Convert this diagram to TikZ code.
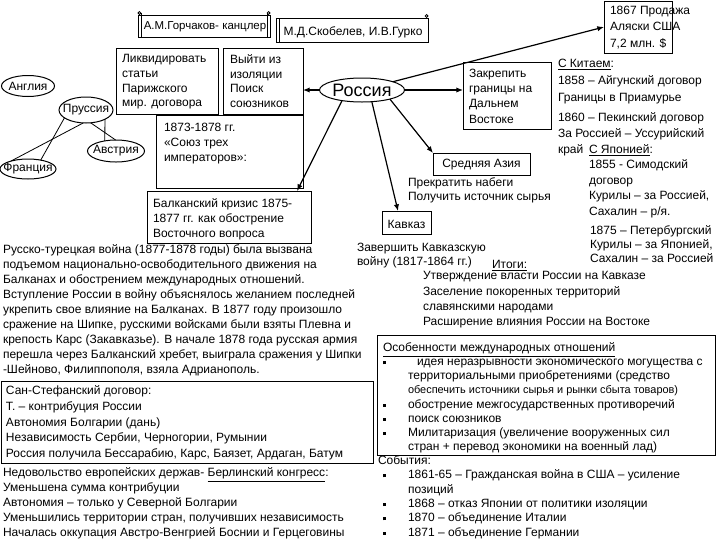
\documentclass[tikz,border=0pt]{standalone}
\usepackage{fontspec}
\setmainfont{Liberation Sans}
\usetikzlibrary{shapes.geometric,arrows.meta,calc}
\begin{document}
\begin{tikzpicture}[x=0.75pt,y=-0.75pt,
  every node/.style={inner sep=0pt,outer sep=0pt},
  txt/.style={font=\fontsize{9}{#1}\selectfont,align=left,anchor=north west,yshift=8.5pt,
    execute at begin node={\rule{0pt}{8.5pt}}},
  txt/.default=11.25,
  ctxt/.style={font=\fontsize{9}{11}\selectfont},
  box/.style={draw,line width=0.75pt,rectangle},
  oval/.style={draw,ellipse,line width=0.75pt},
  arr/.style={line width=0.9pt,-{Latex[length=5pt,width=4pt]}},
  ln/.style={line width=0.6pt}]
\useasboundingbox (0,0) rectangle (720,540);

% scrolls
\node[box,minimum width=99pt,minimum height=16.5pt] (gor) at (204,26) {};
\draw[ln] ([xshift=2.2pt,yshift=1.5pt]gor.north west) -- ([xshift=2.2pt]gor.south west);
\draw[ln] ([xshift=-2.2pt,yshift=1.5pt]gor.north east) -- ([xshift=-2.2pt]gor.south east);
\draw[ln] ([xshift=1.1pt,yshift=1.5pt]gor.north west) circle (1.1pt);
\draw[ln] ([xshift=-1.1pt,yshift=1.5pt]gor.north east) circle (1.1pt);
\node[font=\fontsize{8.6}{11}\selectfont] (gort) at (205,27) {А.М.Горчаков- канцлер};

\node[box,minimum width=114pt,minimum height=18pt] (skob) at (352,30) {};
\draw[ln] ([xshift=2.2pt]skob.north west) -- ([xshift=2.2pt]skob.south west);
\draw[ln] ([xshift=-1.1pt,yshift=1.5pt]skob.north east) circle (1.1pt);
\node[ctxt] (skobt) at (353,32) {М.Д.Скобелев, И.В.Гурко};

% top boxes
\node[box,minimum width=76.5pt,minimum height=49.5pt] (likv) at (167,81) {};
\node[txt=11] (likvt) at (122,66) {Ликвидировать\\статьи\\Парижского\\мир. договора};
\node[box,minimum width=60pt,minimum height=49.5pt] (vyiti) at (263,81) {};
\node[txt=11] (vyitit) at (230,66) {Выйти из\\изоляции\\Поиск\\союзников};
\node[box,minimum width=110.25pt,minimum height=54.75pt] (soyuz) at (229.5,151.5) {};
\node[txt=11.6] (soyuzt) at (164,134) {1873-1878 гг.\\«Союз трех\\императоров»:};
\node[box,minimum width=123pt,minimum height=39pt] (balk) at (229,217) {};
\node[txt] (balkt) at (153,210) {Балканский кризис 1875-\\1877 гг. как обострение\\Восточного вопроса};

% powers
\node[oval,minimum width=39.75pt,minimum height=15.75pt,label={[ctxt]center:Англия}] (en) at (28,86) {};
\node[oval,minimum width=40.5pt,minimum height=19.5pt,label={[ctxt]center:Пруссия}] (pr) at (86,110) {};
\node[oval,minimum width=42.75pt,minimum height=16.5pt,label={[ctxt]center:Австрия}] (au) at (116,151) {};
\node[oval,minimum width=42pt,minimum height=15pt,label={[ctxt]center:Франция}] (fr) at (28,169) {};
\draw[ln] (pr.200) -- (fr.35);
\draw[ln] (pr.258) -- (fr.155);
\draw[ln] (pr.290) -- (au.92);
\draw[ln] (pr.334) -- (au.138);

% Russia
\node[oval,minimum width=63.75pt,minimum height=18pt,label={[font=\fontsize{13.5}{16}\selectfont]center:Россия}] (ru) at (362,90) {};

% right boxes
\node[box,minimum width=66pt,minimum height=50.25pt] (zak) at (507,95.5) {};
\node[txt=11.6] (zakt) at (469,80) {Закрепить\\границы на\\Дальнем\\Востоке};
\node[box,minimum width=51pt,minimum height=39pt] (b1867) at (638,27) {};
\node[txt=12.4] (b1867t) at (610,17) {1867 Продажа\\Аляски США\\7,2 млн. \$};
\node[box,minimum width=72.75pt,minimum height=16.5pt] (sa) at (481.5,164) {};
\node[ctxt] (sat) at (481.5,165) {Средняя Азия};
\node[box,minimum width=36.75pt,minimum height=17.25pt] (kav) at (406.5,222.5) {};
\node[ctxt] (kavt) at (406.5,224) {Кавказ};

% arrows
\draw[arr] (ru.180) -- (ru.180 -| vyiti.east);
\draw[arr] (ru.east) -- (ru.east -| zak.west);
\draw[arr] (ru.15) -- (b1867.west);
\draw[arr] (ru.208) -- ($(balk.north east)+(-14,0)$);
\draw[arr] (ru.310) -- ($(kav.north west)+(16,0)$);
\draw[arr] (ru.342) -- (sa.north west);

% right column
\node[txt=13.1] (kit) at (558,70) {\underline{С Китаем}:\\1858 – Айгунский договор\\Границы в Приамурье};
\node[txt=12] (pek) at (558,124) {1860 – Пекинский договор\\За Россией – Уссурийский\\край};
\node[txt=11.55] (jap) at (589,156) {\underline{С Японией}:\\1855 - Симодский\\договор\\Курилы – за Россией,\\Сахалин – р/я.};
\node[txt=10.5] (pet) at (590,237) {1875 – Петербургский\\Курилы – за Японией,\\Сахалин – за Россией};

% middle texts
\node[txt=10.5] (nab) at (408,189) {Прекратить набеги\\Получить источник сырья};
\node[txt=10.5] (zav) at (357,254) {Завершить Кавказскую\\войну (1817-1864 гг.)};
\node[txt] (itog) at (492,268) {\underline{Итоги:}};
\node[txt=11.4] (itogl) at (423,283) {Утверждение власти России на Кавказе\\Заселение покоренных территорий\\славянскими народами\\Расширение влияния России на Востоке};

% left paragraph
\node[txt] (par) at (3,256) {Русско-турецкая война (1877-1878 годы) была вызвана\\
подъемом национально-освободительного движения на\\
Балканах и обострением международных отношений.\\
Вступление России в войну объяснялось желанием последней\\
укрепить свое влияние на Балканах. В 1877 году произошло\\
сражение на Шипке, русскими войсками были взяты Плевна и\\
крепость Карс (Закавказье). В начале 1878 года русская армия\\
перешла через Балканский хребет, выиграла сражения у Шипки\\
-Шейново, Филиппополя, взяла Адрианополь.};

% San Stefano
\node[box,minimum width=279pt,minimum height=61.5pt] (ss) at (187,422) {};
\node[txt=11.8] (sst) at (6,397) {Сан-Стефанский договор:\\Т. – контрибуция России\\Автономия Болгарии (дань)\\Независимость Сербии, Черногории, Румынии\\Россия получила Бессарабию, Карс, Баязет, Ардаган, Батум};

% Berlin
\node[txt=11.3] (ber) at (3,479) {Недовольство европейских держав- \underline{Берлинский конгресс}:\\Уменьшена сумма контрибуции\\Автономия – только у Северной Болгарии\\Уменьшились территории стран, получивших независимость\\Началась оккупация Австро-Венгрией Боснии и Герцеговины};

% Osobennosti box
\node[box,minimum width=253.5pt,minimum height=90pt] (os) at (546,395) {};
\node[txt=10.6] (ost) at (383,354) {\underline{Особенности международных отношений}\\
\makebox[25.5pt][l]{\rule[1pt]{2.4pt}{2.4pt}}идея неразрывности экономического могущества с\\
\hspace*{18.75pt}территориальными приобретениями (средство\\
\hspace*{18.75pt}{\fontsize{8.2}{10.6}\selectfont обеспечить источники сырья и рынки сбыта товаров)}\\
\makebox[18.75pt][l]{\rule[1pt]{2.4pt}{2.4pt}}обострение межгосударственных противоречий\\
\makebox[18.75pt][l]{\rule[1pt]{2.4pt}{2.4pt}}поиск союзников\\
\makebox[18.75pt][l]{\rule[1pt]{2.4pt}{2.4pt}}Милитаризация (увеличение вооруженных сил\\
\hspace*{18.75pt}стран + перевод экономики на военный лад)};

% Sobytiya
\node[txt=10.75] (sob) at (378,467) {События:\\
\hspace*{3.75pt}\makebox[18.75pt][l]{\rule[1pt]{2.4pt}{2.4pt}}1861-65 – Гражданская война в США – усиление\\
\hspace*{22.5pt}позиций\\
\hspace*{3.75pt}\makebox[18.75pt][l]{\rule[1pt]{2.4pt}{2.4pt}}1868 – отказ Японии от политики изоляции\\
\hspace*{3.75pt}\makebox[18.75pt][l]{\rule[1pt]{2.4pt}{2.4pt}}1870 – объединение Италии\\
\hspace*{3.75pt}\makebox[18.75pt][l]{\rule[1pt]{2.4pt}{2.4pt}}1871 – объединение Германии};
\end{tikzpicture}
\end{document}
